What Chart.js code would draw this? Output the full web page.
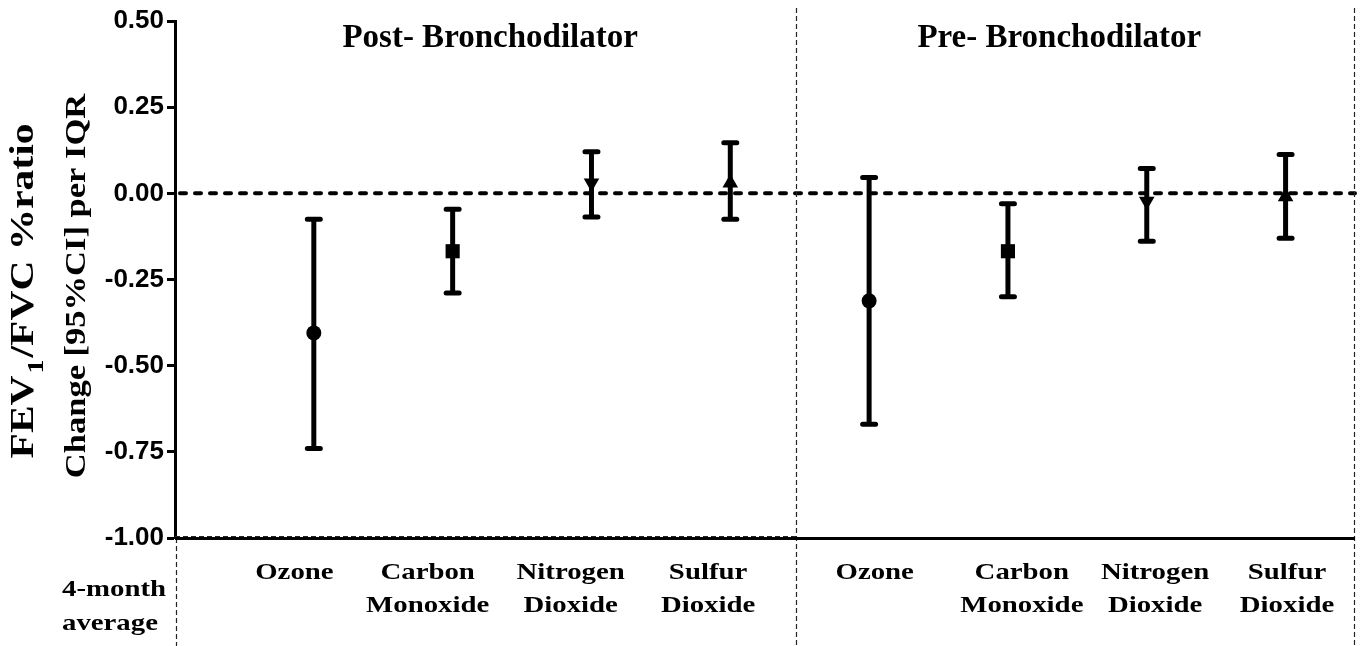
<!DOCTYPE html>
<html>
<head>
<meta charset="utf-8">
<script src="https://cdn.jsdelivr.net/npm/chart.js@4.4.1/dist/chart.umd.min.js"></script>
<style>
  html, body { margin: 0; padding: 0; background: #fff; }
  #wrap { width: 1360px; height: 646px; }
</style>
</head>
<body>
<div id="wrap"><canvas id="chart" width="1360" height="646"></canvas></div>
<script>
// x positions of the eight estimates (1-4 post, 5-8 pre)
const positions = [1, 2, 3, 4, 5, 6, 7, 8];
const pollutants = [['Ozone'], ['Carbon', 'Monoxide'], ['Nitrogen', 'Dioxide'], ['Sulfur', 'Dioxide'],
                    ['Ozone'], ['Carbon', 'Monoxide'], ['Nitrogen', 'Dioxide'], ['Sulfur', 'Dioxide']];
const labelPos = [0.86, 1.82, 2.85, 3.84, 5.04, 6.10, 7.06, 8.01];
const estimates = [-0.405, -0.168, 0.030, 0.030, -0.312, -0.168, -0.023, -0.010];
const lowerCI   = [-0.740, -0.289, -0.069, -0.075, -0.670, -0.300, -0.139, -0.130];
const upperCI   = [-0.075, -0.046, 0.121, 0.147, 0.046, -0.030, 0.072, 0.113];
const markers   = ['circle', 'rect', 'triangle', 'triangle', 'circle', 'rect', 'triangle', 'triangle'];
const rotations = [0, 0, 180, 0, 0, 0, 180, 0];
const groups = ['Post- Bronchodilator', 'Pre- Bronchodilator'];
const groupPos = [2.27, 6.37];
const dividers = [4.48, 8.5];
const yTicks = [0.5, 0.25, 0, -0.25, -0.5, -0.75, -1.0];

const SERIF = '"Liberation Serif", "Times New Roman", serif';
const SANS = '"Liberation Sans", Arial, sans-serif';

// text squeezed/stretched along its own direction
function wideText(ctx, text, x, y, sx, align) {
  const w = ctx.measureText(text).width * sx;
  let left = x;
  if (align === 'center') left = x - w / 2;
  else if (align === 'right') left = x - w;
  ctx.save();
  ctx.translate(left, y);
  ctx.scale(sx, 1);
  ctx.textAlign = 'left';
  ctx.fillText(text, 0, 0);
  ctx.restore();
}

const decor = {
  id: 'decor',
  beforeDatasetsDraw(chart) {
    const { ctx, chartArea, scales: { x, y } } = chart;
    ctx.save();
    // zero reference line
    ctx.strokeStyle = '#000';
    ctx.lineWidth = 4;
    ctx.lineCap = 'round';
    ctx.setLineDash([6, 9]);
    const y0 = y.getPixelForValue(0);
    ctx.beginPath();
    ctx.moveTo(chartArea.left + 5, y0);
    ctx.lineTo(chartArea.right, y0);
    ctx.stroke();

    // thin dashed dividers
    ctx.setLineDash([5, 3]);
    ctx.lineCap = 'butt';
    ctx.lineWidth = 1.2;
    ctx.strokeStyle = '#222';
    const bottom = chart.height;
    ctx.beginPath();
    ctx.moveTo(chartArea.left + 1.5, chartArea.bottom);
    ctx.lineTo(chartArea.left + 1.5, bottom);
    dividers.forEach(d => {
      const px = Math.min(Math.round(x.getPixelForValue(d)), chartArea.right) - 0.5;
      ctx.moveTo(px, 8);
      ctx.lineTo(px, bottom);
    });
    ctx.stroke();
    // dashed line along bottom of left half
    ctx.beginPath();
    ctx.moveTo(chartArea.left, chartArea.bottom - 1.5);
    ctx.lineTo(x.getPixelForValue(dividers[0]), chartArea.bottom - 1.5);
    ctx.stroke();

    // solid x axis
    ctx.setLineDash([]);
    ctx.lineWidth = 3;
    ctx.strokeStyle = '#000';
    ctx.beginPath();
    ctx.moveTo(chartArea.left, chartArea.bottom + 0.5);
    ctx.lineTo(chartArea.right, chartArea.bottom + 0.5);
    ctx.stroke();

    // error bars
    positions.forEach((p, i) => {
      const px = x.getPixelForValue(p);
      const lo = y.getPixelForValue(lowerCI[i]);
      const hi = y.getPixelForValue(upperCI[i]);
      ctx.lineCap = 'butt';
      ctx.lineWidth = 5;
      ctx.beginPath();
      ctx.moveTo(px, lo);
      ctx.lineTo(px, hi);
      ctx.stroke();
      ctx.lineCap = 'round';
      ctx.beginPath();
      ctx.moveTo(px - 6.5, lo);
      ctx.lineTo(px + 6.5, lo);
      ctx.moveTo(px - 6.5, hi);
      ctx.lineTo(px + 6.5, hi);
      ctx.stroke();
    });
    ctx.restore();
  },
  afterDraw(chart) {
    const { ctx, scales: { x } } = chart;
    ctx.save();
    ctx.fillStyle = '#000';
    ctx.textBaseline = 'alphabetic';
    // group titles
    ctx.font = 'bold 33px ' + SERIF;
    groups.forEach((g, i) => wideText(ctx, g, x.getPixelForValue(groupPos[i]), 47, 1, 'center'));

    // category labels
    ctx.font = 'bold 24px ' + SERIF;
    pollutants.forEach((lines, i) => {
      const px = x.getPixelForValue(labelPos[i]);
      lines.forEach((t, j) => wideText(ctx, t, px, 579 + j * 33, 1.2, 'center'));
    });
    wideText(ctx, '4-month', 62, 596, 1.2, 'left');
    wideText(ctx, 'average', 62, 630, 1.2, 'left');

    // y axis title (two lines, rotated)
    ctx.save();
    ctx.translate(33, 291);
    ctx.rotate(-Math.PI / 2);
    const sx1 = 1.22;
    ctx.font = 'bold 34px ' + SERIF;
    const a = 'FEV', b = '/FVC %ratio';
    const wa = ctx.measureText(a).width * sx1;
    const wb = ctx.measureText(b).width * sx1;
    ctx.font = 'bold 23px ' + SERIF;
    const ws = ctx.measureText('1').width * sx1 + 4;
    const start = -(wa + ws + wb) / 2;
    ctx.font = 'bold 34px ' + SERIF;
    wideText(ctx, a, start, 0, sx1, 'left');
    ctx.font = 'bold 23px ' + SERIF;
    wideText(ctx, '1', start + wa + 2, 10, sx1, 'left');
    ctx.font = 'bold 34px ' + SERIF;
    wideText(ctx, b, start + wa + ws, 0, sx1, 'left');
    ctx.restore();

    ctx.save();
    ctx.translate(85, 286);
    ctx.rotate(-Math.PI / 2);
    ctx.font = 'bold 30px ' + SERIF;
    wideText(ctx, 'Change [95%CI] per IQR', 0, 0, 1.15, 'center');
    ctx.restore();
    ctx.restore();
  }
};

new Chart(document.getElementById('chart'), {
  type: 'scatter',
  data: {
    datasets: [{
      data: positions.map((p, i) => ({ x: p, y: estimates[i] })),
      pointStyle: markers,
      rotation: rotations,
      pointRadius: markers.map(m => m === 'circle' ? 7.5 : m === 'rect' ? 10 : 9),
      backgroundColor: '#000',
      borderColor: '#000',
      borderWidth: 0
    }]
  },
  options: {
    responsive: false,
    animation: false,
    events: [],
    layout: { autoPadding: false, padding: { top: 21, right: 5, left: 0, bottom: 108 } },
    plugins: { legend: { display: false }, tooltip: { enabled: false } },
    scales: {
      x: { type: 'linear', min: 0, max: 8.5, display: false },
      y: {
        min: -1, max: 0.5,
        afterFit(scale) { scale.width = 175; },
        afterBuildTicks(scale) { scale.ticks = yTicks.map(v => ({ value: v })); },
        grid: { drawOnChartArea: false, drawTicks: true, tickLength: 8, tickColor: '#000', tickWidth: 3 },
        border: { display: true, color: '#000', width: 3 },
        ticks: {
          color: '#000',
          padding: 3,
          font: { family: SANS, size: 26, weight: 'bold' },
          callback: v => v.toFixed(2)
        }
      }
    }
  },
  plugins: [decor]
});
</script>
</body>
</html>
